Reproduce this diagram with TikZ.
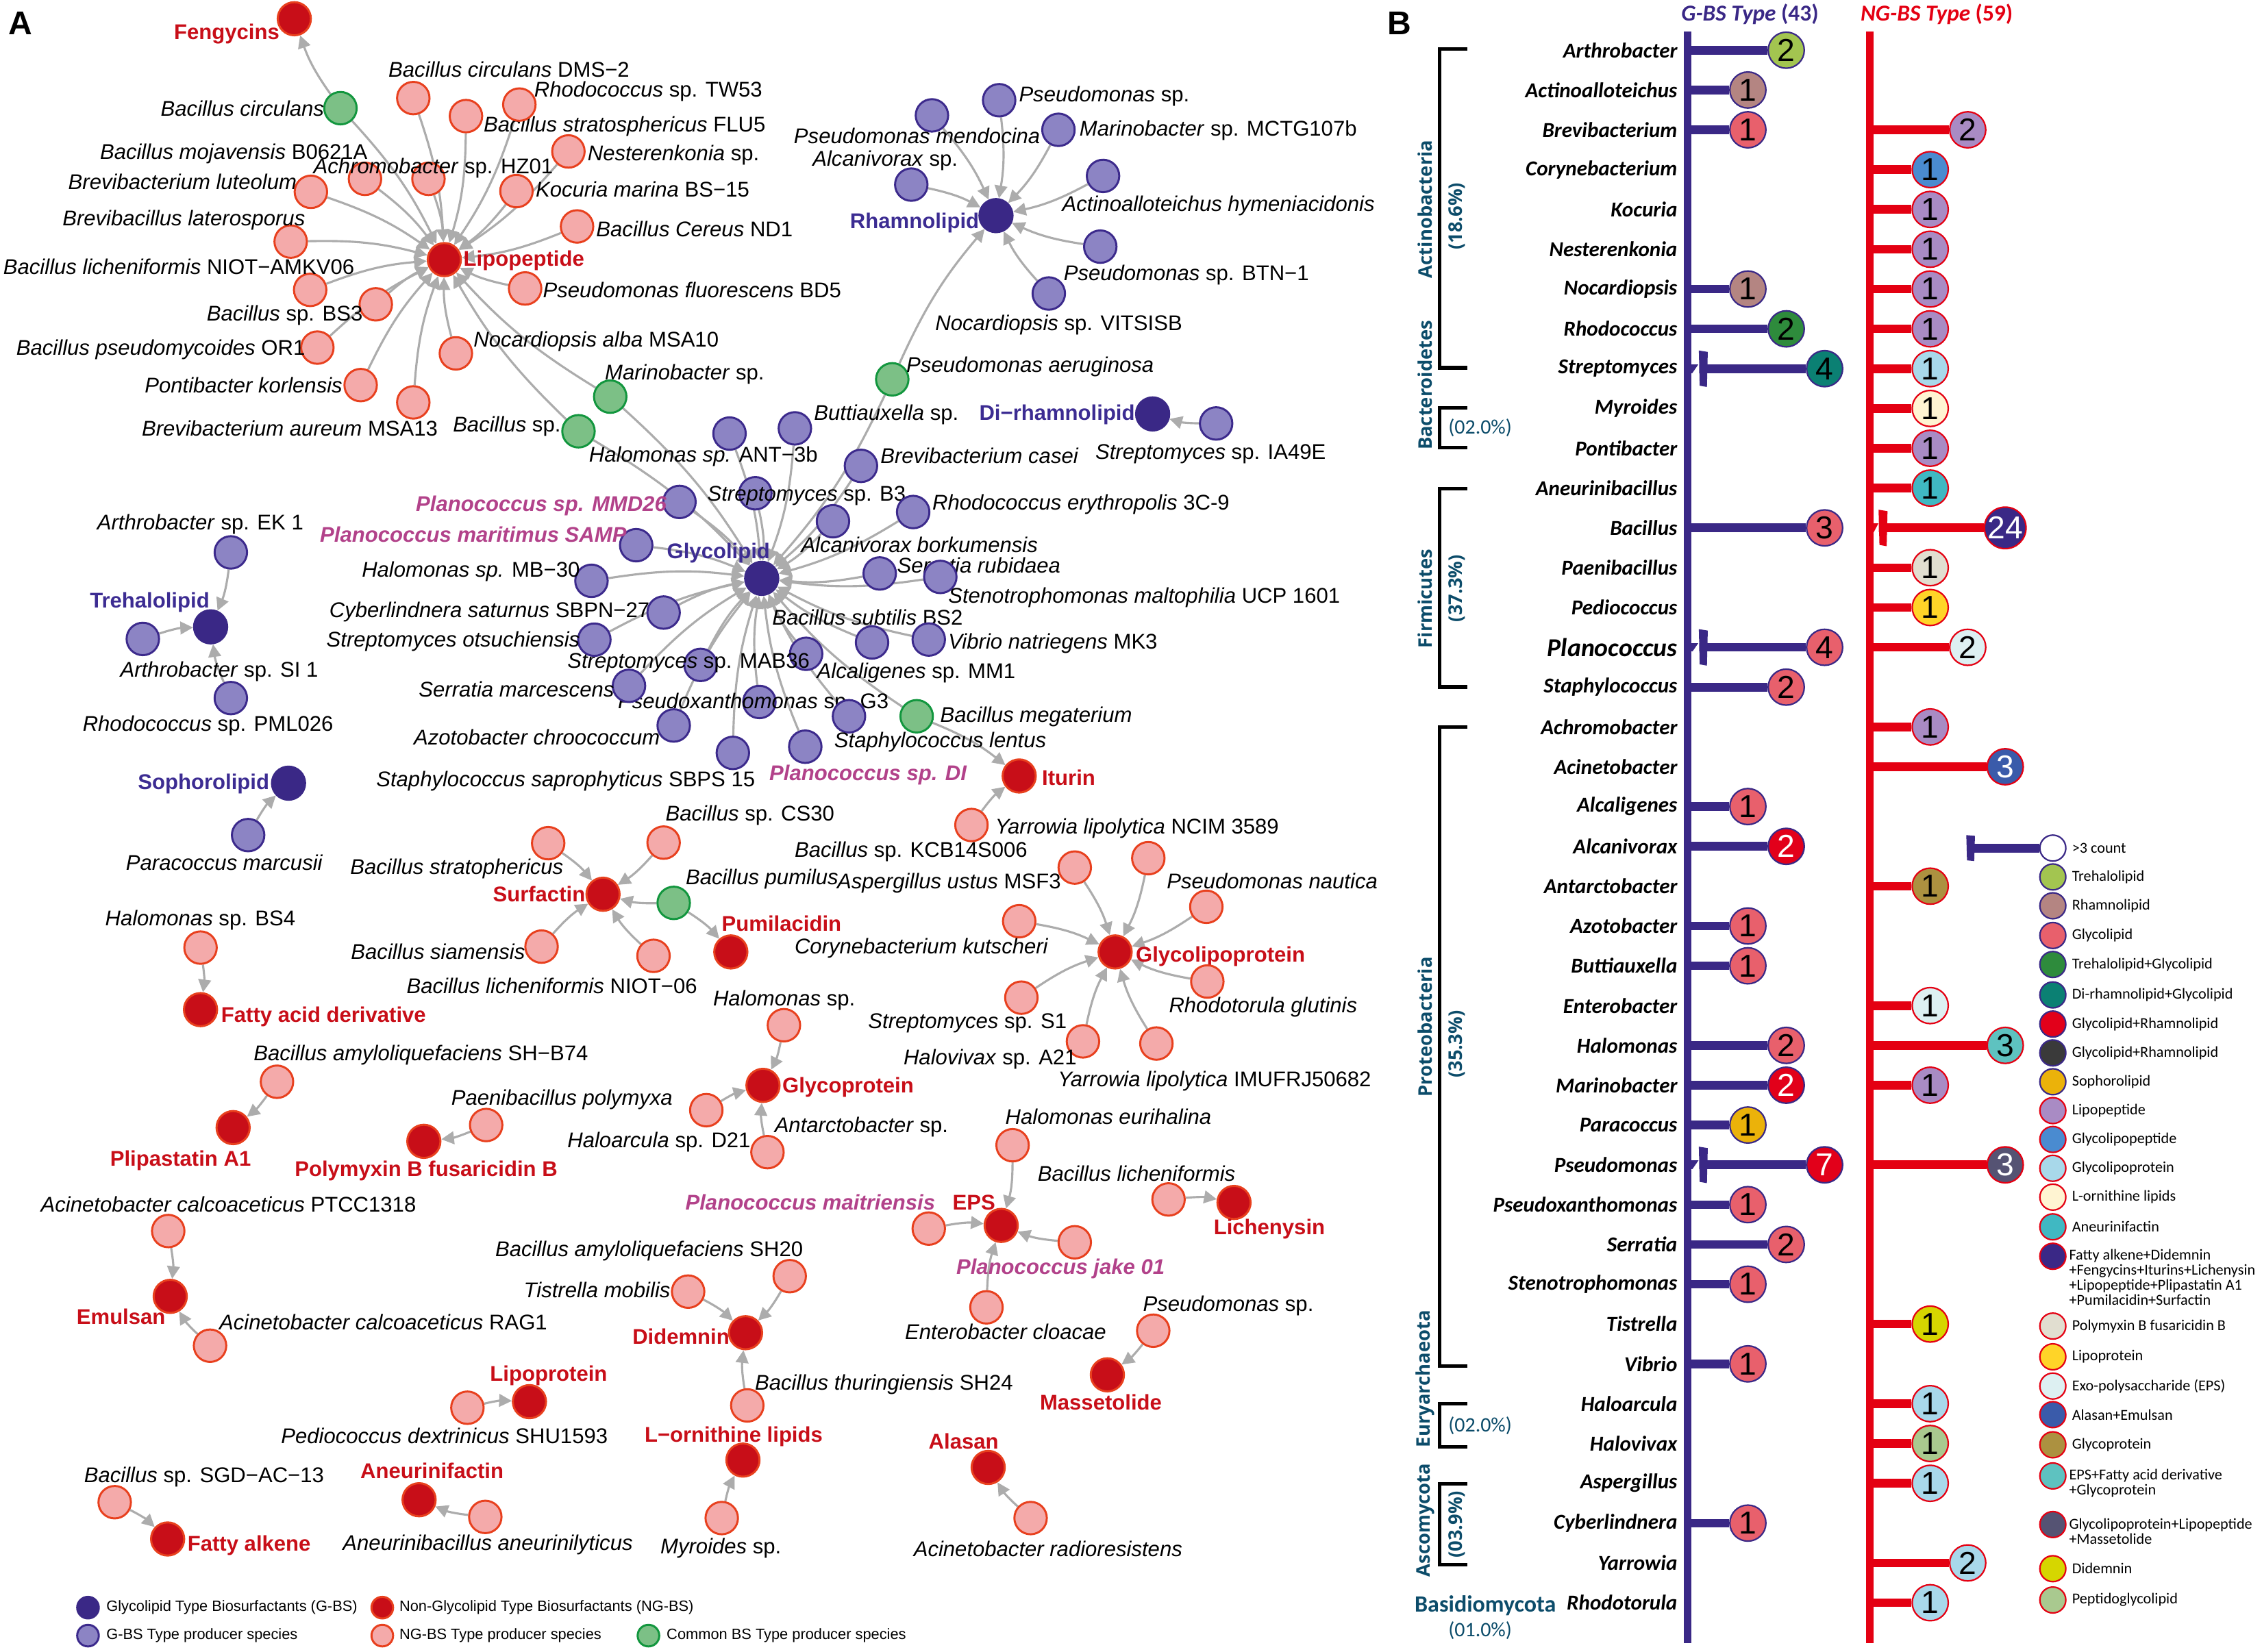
\documentclass[tikz,border=0pt]{standalone}
\usepackage{fontspec}
\setmainfont{Liberation Sans}
\newfontfamily\carlito{Carlito}
\newfontfamily\opensans{Open Sans}
\usetikzlibrary{arrows.meta,backgrounds}

\definecolor{ngfill}{RGB}{244,170,170}
\definecolor{ngline}{RGB}{232,64,30}
\definecolor{gfill}{RGB}{140,132,196}
\definecolor{gline}{RGB}{60,42,140}
\definecolor{cfill}{RGB}{124,192,134}
\definecolor{cline}{RGB}{18,150,62}
\definecolor{ghubc}{RGB}{58,40,134}
\definecolor{nhubc}{RGB}{200,14,24}
\definecolor{linkc}{RGB}{172,172,172}
\definecolor{gtxt}{RGB}{60,44,146}
\definecolor{ntxt}{RGB}{200,14,24}
\definecolor{ptxt}{RGB}{178,66,138}
\definecolor{gaxisc}{RGB}{58,40,134}
\definecolor{naxisc}{RGB}{228,0,18}
\definecolor{phylc}{RGB}{12,76,106}
% bubble colours (panel B)
\definecolor{ctreh}{RGB}{163,197,80}
\definecolor{crham}{RGB}{180,133,130}
\definecolor{cglyc}{RGB}{232,96,108}
\definecolor{ctrgl}{RGB}{46,139,60}
\definecolor{cdirg}{RGB}{11,128,115}
\definecolor{cglrh}{RGB}{226,0,26}
\definecolor{cgldk}{RGB}{58,58,58}
\definecolor{csoph}{RGB}{235,178,10}
\definecolor{clipo}{RGB}{169,139,196}
\definecolor{cglpep}{RGB}{74,139,208}
\definecolor{cglpr}{RGB}{168,216,234}
\definecolor{corn}{RGB}{255,244,210}
\definecolor{caneu}{RGB}{64,184,194}
\definecolor{cfatty}{RGB}{58,40,134}
\definecolor{cpoly}{RGB}{225,222,208}
\definecolor{clipr}{RGB}{255,212,40}
\definecolor{ceps}{RGB}{221,240,242}
\definecolor{calas}{RGB}{58,91,170}
\definecolor{cgprot}{RGB}{172,145,64}
\definecolor{cepsf}{RGB}{94,194,192}
\definecolor{cglm}{RGB}{85,83,115}
\definecolor{cdide}{RGB}{214,214,0}
\definecolor{cpepg}{RGB}{169,201,143}

\newcommand\bigplan{{\fontsize{10.2}{12}\selectfont Planococcus}}

\tikzset{
  ngp/.style={circle, draw=ngline, fill=ngfill, line width=0.8pt, minimum size=0.45cm, inner sep=0pt},
  gp/.style={circle, draw=gline, fill=gfill, line width=0.8pt, minimum size=0.45cm, inner sep=0pt},
  cp/.style={circle, draw=cline, fill=cfill, line width=0.8pt, minimum size=0.45cm, inner sep=0pt},
  gh/.style={circle, draw=ghubc, fill=ghubc, line width=0.8pt, minimum size=0.46cm, inner sep=0pt},
  nh/.style={circle, draw=ngline, fill=nhubc, line width=0.8pt, minimum size=0.46cm, inner sep=0pt},
  link/.style={draw=linkc, line width=0.85pt, -{Triangle[length=5pt,width=5pt]}, bend left=8},
  lab/.style={font=\fontsize{8.4}{10}\selectfont, inner sep=0pt, text height=6.5pt, text depth=1.6pt, anchor=west},
  glab/.style={lab, font=\fontsize{8.4}{10}\selectfont\bfseries, text=gtxt},
  nlab/.style={lab, font=\fontsize{8.4}{10}\selectfont\bfseries, text=ntxt},
  plab/.style={lab, font=\fontsize{8.4}{10}\selectfont\bfseries\itshape, text=ptxt},
  panel/.style={font=\fontsize{13}{13}\selectfont\bfseries, inner sep=0pt},
  keyA/.style={font=\fontsize{5.9}{7}\selectfont, inner sep=0pt, anchor=west},
  gaxis/.style={draw=gaxisc, line width=3pt},
  naxis/.style={draw=naxisc, line width=3pt},
  gstem/.style={draw=gaxisc, line width=3.4pt},
  nstem/.style={draw=naxisc, line width=3.4pt},
  gbub/.style={circle, draw=gaxisc, line width=0.6pt, minimum size=0.5cm, inner sep=0pt, font=\fontsize{12.5}{12.5}\selectfont},
  nbub/.style={circle, draw=naxisc, line width=0.6pt, minimum size=0.5cm, inner sep=0pt, font=\fontsize{12.5}{12.5}\selectfont},
  genus/.style={font=\carlito\fontsize{8.4}{10}\selectfont\bfseries\itshape, anchor=east, inner sep=0pt},
  ttl/.style={font=\carlito\fontsize{9}{10}\selectfont\bfseries, inner sep=0pt},
  brk/.style={draw=black, line width=1.4pt},
  phyl/.style={font=\opensans\fontsize{7.4}{9}\selectfont\bfseries, text=phylc, inner sep=0pt},
  pct/.style={font=\carlito\fontsize{8.1}{9}\selectfont, text=phylc, inner sep=0pt},
  legc/.style={circle, minimum size=0.36cm, inner sep=0pt, line width=0.6pt},
  legt/.style={font=\carlito\fontsize{6}{5.9}\selectfont, anchor=west, inner sep=0pt, align=left},
}

\begin{document}
\begin{tikzpicture}[x=0.02cm, y=-0.02cm]
\useasboundingbox (0,0) rectangle (1568,1145);

% ================= panel A =================
\node[panel] (pA) at (14,16) {A};

% Lipopeptide and Fengycins
\node[nh] (lipo) at (308,180) {};
\node[nlab] (lipoL) at (321,180) {Lipopeptide};
\node[nh] (feng) at (204,13) {};
\node[nlab, anchor=east] (fengL) at (194,23) {Fengycins};

\node[cp] (bcirc) at (236,75) {};
\node[lab, anchor=east] (bcircL) at (225,76) {\textit{Bacillus circulans}};
\node[ngp] (dms) at (286.5,68) {};
\node[lab] (dmsL) at (269,49) {\textit{Bacillus circulans} DMS−2};
\node[ngp] (flu) at (323,80.5) {};
\node[lab] (fluL) at (335,87) {\textit{Bacillus stratosphericus} FLU5};
\node[ngp] (tw) at (360,72.5) {};
\node[lab] (twL) at (370,63) {\textit{Rhodococcus} sp. TW53};
\node[ngp] (nest) at (394,105) {};
\node[lab] (nestL) at (407,107) {\textit{Nesterenkonia} sp.};
\node[ngp] (moja) at (253,124) {};
\node[lab] (mojaL) at (69,106) {\textit{Bacillus mojavensis} B0621A};
\node[ngp] (hz) at (297,124) {};
\node[lab] (hzL) at (217,116) {\textit{Achromobacter} sp. HZ01};
\node[ngp] (koc) at (358,132.5) {};
\node[lab] (kocL) at (371,132) {\textit{Kocuria marina} BS−15};
\node[ngp] (bleut) at (215.5,133) {};
\node[lab] (bleutL) at (47,127) {\textit{Brevibacterium luteolum}};
\node[ngp] (cer) at (400,157) {};
\node[lab] (cerL) at (413,160) {\textit{Bacillus Cereus} ND1};
\node[ngp] (blat) at (201.5,167.5) {};
\node[lab] (blatL) at (43,152) {\textit{Brevibacillus laterosporus}};
\node[ngp] (amkv) at (215,201) {};
\node[lab] (amkvL) at (2,186) {\textit{Bacillus licheniformis} NIOT−AMKV06};
\node[ngp] (fluo) at (364,200) {};
\node[lab] (fluoL) at (376,202) {\textit{Pseudomonas fluorescens} BD5};
\node[ngp] (bs3) at (260.5,211) {};
\node[lab] (bs3L) at (143,218) {\textit{Bacillus} sp. BS3};
\node[ngp] (or1) at (220,241) {};
\node[lab] (or1L) at (11,242) {\textit{Bacillus pseudomycoides} OR1};
\node[ngp] (msa10) at (316,245) {};
\node[lab] (msa10L) at (328,236) {\textit{Nocardiopsis alba} MSA10};
\node[ngp] (pont) at (250,267) {};
\node[lab] (pontL) at (100,268) {\textit{Pontibacter korlensis}};
\node[ngp] (msa13) at (286.5,279) {};
\node[lab] (msa13L) at (98,298) {\textit{Brevibacterium aureum} MSA13};
\node[cp] (marc) at (423,275) {};
\node[lab] (marcL) at (419,259) {\textit{Marinobacter} sp.};
\node[cp] (bsp) at (401,299) {};
\node[lab, anchor=east] (bspL) at (389,295) {\textit{Bacillus} sp.};

% Rhamnolipid
\node[gh] (rham) at (690.4,149.5) {};
\node[glab, anchor=east] (rhamL) at (679,154) {Rhamnolipid};
\node[gp] (psp) at (692.6,69.5) {};
\node[lab] (pspL) at (706,66) {\textit{Pseudomonas} sp.};
\node[gp] (pmen) at (646,80) {};
\node[lab] (pmenL) at (550,95) {\textit{Pseudomonas mendocina}};
\node[gp] (mctg) at (733.7,90) {};
\node[lab] (mctgL) at (748,90) {\textit{Marinobacter} sp. MCTG107b};
\node[gp] (alcsp) at (631.7,128) {};
\node[lab] (alcspL) at (563,111) {\textit{Alcanivorax} sp.};
\node[gp] (acti) at (764.6,122) {};
\node[lab] (actiL) at (736,142) {\textit{Actinoalloteichus hymeniacidonis}};
\node[gp] (btn) at (762.7,171) {};
\node[lab] (btnL) at (737,190) {\textit{Pseudomonas} sp. BTN−1};
\node[gp] (vit) at (727,203.5) {};
\node[lab] (vitL) at (648,225) {\textit{Nocardiopsis} sp. VITSISB};
\node[cp] (paer) at (618.5,263) {};
\node[lab] (paerL) at (628,254) {\textit{Pseudomonas aeruginosa}};

% Di-rhamnolipid
\node[gh] (dirham) at (799,287) {};
\node[glab, anchor=east] (dirhamL) at (787,287) {Di−rhamnolipid};
\node[gp] (ia49) at (843,293.6) {};
\node[lab] (ia49L) at (759,314) {\textit{Streptomyces} sp. IA49E};

% Glycolipid
\node[gh] (glyco) at (528,401) {};
\node[glab] (glycoL) at (462,383) {Glycolipid};
\node[gp] (ant) at (505.7,300.6) {};
\node[lab] (antL) at (408,316) {\textit{Halomonas sp.} ANT−3b};
\node[gp] (butt) at (551,297) {};
\node[lab] (buttL) at (564,287) {\textit{Buttiauxella} sp.};
\node[gp] (bcas) at (596.8,323) {};
\node[lab] (bcasL) at (610,317) {\textit{Brevibacterium casei}};
\node[gp] (b3) at (523.6,342) {};
\node[lab] (b3L) at (490,343) {\textit{Streptomyces} sp. B3};
\node[gp] (rery) at (633,355) {};
\node[lab] (reryL) at (646,349) {\textit{Rhodococcus erythropolis} 3C-9};
\node[gp] (abork) at (577.4,361.4) {};
\node[lab] (aborkL) at (555,378.5) {\textit{Alcanivorax borkumensis}};
\node[gp] (srub) at (609.8,397.6) {};
\node[lab] (srubL) at (621.5,393) {\textit{Serratia rubidaea}};
\node[gp] (steno) at (651.8,400) {};
\node[lab] (stenoL) at (657,414) {\textit{Stenotrophomonas maltophilia} UCP 1601};
\node[gp] (bsub) at (604.5,445.4) {};
\node[lab] (bsubL) at (535,429) {\textit{Bacillus subtilis} BS2};
\node[gp] (vib) at (643.8,443.4) {};
\node[lab] (vibL) at (657,445.4) {\textit{Vibrio natriegens} MK3};
\node[gp] (alcal) at (558.8,453.3) {};
\node[lab] (alcalL) at (566,466) {\textit{Alcaligenes} sp. MM1};
\node[gp] (mab) at (485.6,461) {};
\node[lab] (mabL) at (393,459) {\textit{Streptomyces} sp. MAB36};
\node[gp] (g3) at (526.4,486.7) {};
\node[lab] (g3L) at (428,487) {\textit{Pseudoxanthomonas} sp. G3};
\node[gp] (slen) at (588.5,496.6) {};
\node[lab] (slenL) at (578,514) {\textit{Staphylococcus lentus}};
\node[gp] (pdi) at (558.2,517.7) {};
\node[plab] (pdiL) at (533,537) {Planococcus sp. DI};
\node[gp] (ssap) at (508,522) {};
\node[lab] (ssapL) at (260.5,541) {\textit{Staphylococcus saprophyticus} SBPS 15};
\node[gp] (azo) at (467,503) {};
\node[lab] (azoL) at (286.5,512) {\textit{Azotobacter chroococcum}};
\node[gp] (smar) at (436,475.5) {};
\node[lab] (smarL) at (290,479) {\textit{Serratia marcescens}};
\node[gp] (otsu) at (412,443.5) {};
\node[lab] (otsuL) at (226,444.4) {\textit{Streptomyces otsuchiensis}};
\node[gp] (cyb) at (460,424.7) {};
\node[lab] (cybL) at (228,424) {\textit{Cyberlindnera saturnus} SBPN−27};
\node[gp] (mb30) at (410,402.7) {};
\node[lab] (mb30L) at (250.5,396) {\textit{Halomonas sp.} MB−30};
\node[gp] (samp) at (441,378) {};
\node[plab] (sampL) at (221.5,371.6) {Planococcus maritimus SAMP};
\node[gp] (mmd) at (471,348) {};
\node[plab] (mmdL) at (288,350) {Planococcus sp. MMD26};
\node[cp] (bmeg) at (635.4,496.6) {};
\node[lab] (bmegL) at (651.5,496.6) {\textit{Bacillus megaterium}};

% Trehalolipid
\node[gh] (treh) at (146,434.6) {};
\node[glab] (trehL) at (62,417) {Trehalolipid};
\node[gp] (ek1) at (160,383) {};
\node[lab] (ek1L) at (67,363) {\textit{Arthrobacter} sp. EK 1};
\node[gp] (si1) at (99,443) {};
\node[lab] (si1L) at (83,465) {\textit{Arthrobacter} sp. SI 1};
\node[gp] (pml) at (160,484) {};
\node[lab] (pmlL) at (57,502.5) {\textit{Rhodococcus} sp. PML026};

% Sophorolipid
\node[gh] (soph) at (200,543) {};
\node[glab, anchor=east] (sophL) at (187,543) {Sophorolipid};
\node[gp] (para) at (172,579) {};
\node[lab] (paraL) at (87,599) {\textit{Paracoccus marcusii}};

% Surfactin and Pumilacidin
\node[nh] (surf) at (418,620) {};
\node[nlab, anchor=east] (surfL) at (406,621) {Surfactin};
\node[ngp] (bstrat) at (380,584.6) {};
\node[lab] (bstratL) at (242.5,602) {\textit{Bacillus stratophericus}};
\node[ngp] (cs30) at (460,584.2) {};
\node[lab] (cs30L) at (461,565) {\textit{Bacillus} sp. CS30};
\node[cp] (bpum) at (467,626) {};
\node[lab] (bpumL) at (475,609) {\textit{Bacillus pumilus}};
\node[ngp] (bsiam) at (375.4,656.3) {};
\node[lab] (bsiamL) at (243,660.5) {\textit{Bacillus siamensis}};
\node[ngp] (niot6) at (453,662.7) {};
\node[lab] (niot6L) at (281.5,684.3) {\textit{Bacillus licheniformis} NIOT−06};
\node[nh] (pumi) at (506.6,660) {};
\node[nlab] (pumiL) at (500,641.5) {Pumilacidin};

% Iturin
\node[nh] (itur) at (706.5,538) {};
\node[nlab] (iturL) at (722,540) {Iturin};
\node[ngp] (yncim) at (673.4,572) {};
\node[lab] (yncimL) at (689.5,574) {\textit{Yarrowia lipolytica} NCIM 3589};

% Glycolipoprotein
\node[nh] (glpr) at (773,660) {};
\node[nlab] (glprL) at (787,662.5) {Glycolipoprotein};
\node[ngp] (kcb) at (796,595) {};
\node[lab] (kcbL) at (550.5,590) {\textit{Bacillus} sp. KCB14S006};
\node[ngp] (msf3) at (745,601.5) {};
\node[lab] (msf3L) at (580,611.8) {\textit{Aspergillus ustus} MSF3};
\node[ngp] (naut) at (836.2,628.7) {};
\node[lab] (nautL) at (808.5,611.8) {\textit{Pseudomonas nautica}};
\node[ngp] (kuts) at (706.5,638.7) {};
\node[lab] (kutsL) at (550.5,657) {\textit{Corynebacterium kutscheri}};
\node[ngp] (rglu) at (836.9,680.5) {};
\node[lab] (rgluL) at (810,698) {\textit{Rhodotorula glutinis}};
\node[ngp] (s1) at (708,691.7) {};
\node[lab] (s1L) at (601.5,708.7) {\textit{Streptomyces} sp. S1};
\node[ngp] (a21) at (750.7,722) {};
\node[lab] (a21L) at (626,734) {\textit{Halovivax} sp. A21};
\node[ngp] (imu) at (801.6,723.5) {};
\node[lab] (imuL) at (733,749) {\textit{Yarrowia lipolytica} IMUFRJ50682};

% single-source biosurfactants
\node[nh] (fad) at (139,700) {};
\node[nlab] (fadL) at (153,704.4) {Fatty acid derivative};
\node[ngp] (bs4) at (139,657) {};
\node[lab] (bs4L) at (72.6,637.6) {\textit{Halomonas} sp. BS4};

\node[nh] (plip) at (161.6,781.8) {};
\node[nlab] (plipL) at (76,804) {Plipastatin A1};
\node[ngp] (shb74) at (192,750) {};
\node[lab] (shb74L) at (175.5,731) {\textit{Bacillus amyloliquefaciens} SH−B74};

\node[nh] (poly) at (293.8,791.3) {};
\node[nlab] (polyL) at (204,811.5) {Polymyxin B fusaricidin B};
\node[ngp] (paeni) at (337,780) {};
\node[lab] (paeniL) at (312.5,761.7) {\textit{Paenibacillus polymyxa}};

\node[nh] (gprot) at (528.9,752.5) {};
\node[nlab] (gprotL) at (542,753.2) {Glycoprotein};
\node[ngp] (halsp) at (543.4,710.8) {};
\node[lab] (halspL) at (494,692.8) {\textit{Halomonas} sp.};
\node[ngp] (d21) at (489.6,769.7) {};
\node[lab] (d21L) at (393,791.3) {\textit{Haloarcula} sp. D21};
\node[ngp] (antar) at (532,798.8) {};
\node[lab] (antarL) at (536.6,780.7) {\textit{Antarctobacter} sp.};

\node[nh] (eps) at (694,849.6) {};
\node[nlab] (epsL) at (660,834.4) {EPS};
\node[ngp] (heur) at (701.9,794) {};
\node[lab] (heurL) at (696.6,775.4) {\textit{Halomonas eurihalina}};
\node[ngp] (pmait) at (643.8,851.8) {};
\node[plab] (pmaitL) at (474.8,834.4) {Planococcus maitriensis};
\node[ngp] (pjake) at (745,861.3) {};
\node[plab] (pjakeL) at (662.6,879.3) {Planococcus jake 01};
\node[ngp] (entc) at (683.8,906.4) {};
\node[lab] (entcL) at (627,924.3) {\textit{Enterobacter cloacae}};

\node[nh] (lich) at (855.4,833.7) {};
\node[nlab] (lichL) at (841,851.8) {Lichenysin};
\node[ngp] (blich) at (810,831.6) {};
\node[lab] (blichL) at (719,814.7) {\textit{Bacillus licheniformis}};

\node[nh] (emul) at (118,898.8) {};
\node[nlab, anchor=east] (emulL) at (115,914) {Emulsan};
\node[ngp] (ptcc) at (116.6,853.5) {};
\node[lab] (ptccL) at (28,835.9) {\textit{Acinetobacter calcoaceticus} PTCC1318};
\node[ngp] (rag1) at (145.6,933) {};
\node[lab] (rag1L) at (151.7,917.5) {\textit{Acinetobacter calcoaceticus} RAG1};

\node[nh] (didem) at (516.8,924) {};
\node[nlab, anchor=east] (didemL) at (506,927.7) {Didemnin};
\node[ngp] (tist) at (477,895.5) {};
\node[lab, anchor=east] (tistL) at (465,895.2) {\textit{Tistrella mobilis}};
\node[ngp] (sh20) at (547.4,884.8) {};
\node[lab] (sh20L) at (343,866.6) {\textit{Bacillus amyloliquefaciens} SH20};
\node[ngp] (sh24) at (518,974.4) {};
\node[lab] (sh24L) at (523,959.6) {\textit{Bacillus thuringiensis} SH24};

\node[nh] (mass) at (767.6,953.2) {};
\node[nlab] (massL) at (720.5,973.2) {Massetolide};
\node[ngp] (psp2) at (799.4,922.6) {};
\node[lab] (psp2L) at (792,904.7) {\textit{Pseudomonas} sp.};

\node[nh] (lipr) at (367,971.8) {};
\node[nlab] (liprL) at (339.4,953.2) {Lipoprotein};
\node[ngp] (pedio) at (324,976) {};
\node[lab] (pedioL) at (194.5,996.5) {\textit{Pediococcus dextrinicus} SHU1593};

\node[nh] (lorn) at (515,1012.3) {};
\node[nlab] (lornL) at (446.5,995.6) {L−ornithine lipids};
\node[ngp] (myro) at (500.3,1052.5) {};
\node[lab] (myroL) at (457.5,1073) {\textit{Myroides} sp.};

\node[nh] (alas) at (685,1017.4) {};
\node[nlab] (alasL) at (643.4,1000.4) {Alasan};
\node[ngp] (arad) at (714.4,1052.5) {};
\node[lab] (aradL) at (633,1074.6) {\textit{Acinetobacter radioresistens}};

\node[nh] (falk) at (116.2,1067) {};
\node[nlab] (falkL) at (129.7,1071.2) {Fatty alkene};
\node[ngp] (sgd) at (79.5,1041.5) {};
\node[lab] (sgdL) at (58,1023.7) {\textit{Bacillus} sp. SGD−AC−13};

\node[nh] (aneu) at (290.5,1039.8) {};
\node[nlab] (aneuL) at (249.5,1020.8) {Aneurinifactin};
\node[ngp] (anba) at (336.4,1051.7) {};
\node[lab] (anbaL) at (237.3,1070.4) {\textit{Aneurinibacillus aneurinilyticus}};

% connectors, behind the circles
\begin{scope}[on background layer]
\foreach \s in {bcirc,dms,flu,tw,nest,moja,hz,koc,bleut,cer,blat,amkv,fluo,bs3,or1,msa10,pont,msa13,marc,bsp}
  \draw[link] (\s) to (lipo);
\draw[link] (bcirc) to (feng);
\foreach \s in {psp,pmen,mctg,alcsp,acti,btn,vit,paer}
  \draw[link] (\s) to (rham);
\draw[link] (ia49) to (dirham);
\foreach \s in {ant,butt,bcas,b3,rery,abork,srub,steno,bsub,vib,alcal,mab,g3,slen,pdi,ssap,azo,smar,otsu,cyb,mb30,samp,mmd,marc,bsp,paer,bmeg}
  \draw[link] (\s) to (glyco);
\foreach \s in {ek1,si1,pml}
  \draw[link] (\s) to (treh);
\draw[link] (para) to (soph);
\foreach \s in {bstrat,cs30,bpum,bsiam,niot6}
  \draw[link] (\s) to (surf);
\draw[link] (bpum) to (pumi);
\draw[link] (bmeg) to (itur);
\draw[link] (yncim) to (itur);
\foreach \s in {kcb,msf3,naut,kuts,rglu,s1,a21,imu}
  \draw[link] (\s) to (glpr);
\draw[link] (bs4) to (fad);
\draw[link] (shb74) to (plip);
\draw[link] (paeni) to (poly);
\foreach \s in {halsp,d21,antar}
  \draw[link] (\s) to (gprot);
\foreach \s in {heur,pmait,pjake,entc}
  \draw[link] (\s) to (eps);
\draw[link] (blich) to (lich);
\draw[link] (ptcc) to (emul);
\draw[link] (rag1) to (emul);
\foreach \s in {tist,sh20,sh24}
  \draw[link] (\s) to (didem);
\draw[link] (psp2) to (mass);
\draw[link] (pedio) to (lipr);
\draw[link] (myro) to (lorn);
\draw[link] (arad) to (alas);
\draw[link] (sgd) to (falk);
\draw[link] (anba) to (aneu);
\end{scope}

% key of panel A
\node[gh, minimum size=0.3cm] (kA1) at (61,1114.6) {};
\node[keyA] (kA1t) at (73.4,1114.6) {Glycolipid Type Biosurfactants (G-BS)};
\node[nh, minimum size=0.3cm] (kA2) at (265,1114.6) {};
\node[keyA] (kA2t) at (276.5,1114.6) {Non-Glycolipid Type Biosurfactants (NG-BS)};
\node[gp, minimum size=0.3cm] (kA3) at (61,1134) {};
\node[keyA] (kA3t) at (73.4,1134) {G-BS Type producer species};
\node[ngp, minimum size=0.3cm] (kA4) at (265,1134) {};
\node[keyA] (kA4t) at (276.5,1134) {NG-BS Type producer species};
\node[cp, minimum size=0.3cm] (kA5) at (449.5,1134) {};
\node[keyA] (kA5t) at (461.8,1134) {Common BS Type producer species};

% ================= panel B =================
\node[panel] (pB) at (970,16) {B};
\node[ttl, text=gaxisc] (gttl) at (1213,10) {\textit{G-BS Type} (43)};
\node[ttl, text=naxisc] (nttl) at (1342.5,10) {\textit{NG-BS Type} (59)};

\coordinate (gtop) at (1169.6,22);
\coordinate (gbot) at (1169.6,1139);
\coordinate (ntop) at (1296.2,22);
\coordinate (nbot) at (1296.2,1139);
\draw[gaxis] (gtop) -- (gbot);
\draw[naxis] (ntop) -- (nbot);

% genus names
\foreach \g [count=\i] in {Arthrobacter,Actinoalloteichus,Brevibacterium,Corynebacterium,Kocuria,Nesterenkonia,Nocardiopsis,Rhodococcus,Streptomyces,Myroides,Pontibacter,Aneurinibacillus,Bacillus,Paenibacillus,Pediococcus,\bigplan,Staphylococcus,Achromobacter,Acinetobacter,Alcaligenes,Alcanivorax,Antarctobacter,Azotobacter,Buttiauxella,Enterobacter,Halomonas,Marinobacter,Paracoccus,Pseudomonas,Pseudoxanthomonas,Serratia,Stenotrophomonas,Tistrella,Vibrio,Haloarcula,Halovivax,Aspergillus,Cyberlindnera,Yarrowia,Rhodotorula}
  \node[genus] (gen\i) at (1163,{34.8+(\i-1)*27.6}) {\g};

% G-BS counts
\foreach \i/\n/\c/\t in {1/2/ctreh/black,2/1/crham/black,3/1/cglyc/black,7/1/crham/black,8/2/ctrgl/black,9/4/cdirg/black,13/3/cglyc/black,16/4/cglyc/black,17/2/cglyc/black,20/1/cglyc/black,21/2/cglrh/white,23/1/cglyc/black,24/1/cglyc/black,26/2/cglyc/black,27/2/cglrh/white,28/1/csoph/black,29/7/cglrh/white,30/1/cglyc/black,31/2/cglyc/black,32/1/cglyc/black,34/1/cglyc/black,38/1/cglyc/black} {
  \pgfmathsetmacro\ry{34.8+(\i-1)*27.6}
  \pgfmathsetmacro\bx{1185+26.6*min(\n,3)}
  \coordinate (ga\i) at (1169.6,\ry);
  \node[gbub, fill=\c, text=\t] (gb\i) at (\bx,\ry) {\n};
  \draw[gstem] (ga\i) -- (gb\i);
}

% NG-BS counts
\foreach \i/\n/\c/\t in {3/2/clipo/black,4/1/cglpep/black,5/1/clipo/black,6/1/clipo/black,7/1/clipo/black,8/1/clipo/black,9/1/cglpr/black,10/1/corn/black,11/1/clipo/black,12/1/caneu/black,13/24/cfatty/white,14/1/cpoly/black,15/1/clipr/black,16/2/ceps/black,18/1/clipo/black,19/3/calas/white,22/1/cgprot/black,25/1/ceps/black,26/3/cepsf/black,27/1/clipo/black,29/3/cglm/white,33/1/cdide/black,35/1/cglpr/black,36/1/cpepg/black,37/1/cglpr/black,39/2/cglpr/black,40/1/cglpr/black} {
  \pgfmathsetmacro\ry{34.8+(\i-1)*27.6}
  \pgfmathsetmacro\bx{1312+26*min(\n,3)}
  \coordinate (na\i) at (1296.2,\ry);
  \node[nbub, fill=\c, text=\t] (nb\i) at (\bx,\ry) {\n};
  \draw[nstem] (na\i) -- (nb\i);
}

% breaks for counts above 3
\foreach \i in {9,16,29} {
  \fill[gaxisc, shift={(1169.6,{34.8+(\i-1)*27.6})}] (8,-12.6) -- (14.2,-11.6) -- (13.6,12.7) -- (8.6,11.8) -- cycle;
  \fill[white, shift={(1169.6,{34.8+(\i-1)*27.6})}] (3.2,3.6) -- (8.2,-3.6) -- (8.2,3.6) -- cycle;
}
\fill[naxisc, shift={(1296.2,366)}] (6,-12.6) -- (12.2,-11.6) -- (11.6,12.7) -- (6.6,11.8) -- cycle;
\fill[white, shift={(1296.2,366)}] (2.4,3.6) -- (6.2,-3.6) -- (6.2,3.6) -- cycle;

% phylum brackets
\draw[brk] (1017,34) -- (998,34) -- (998,255) -- (1017,255);
\draw[brk] (1017,282.6) -- (998,282.6) -- (998,310.4) -- (1017,310.4);
\draw[brk] (1017,339) -- (998,339) -- (998,476.3) -- (1017,476.3);
\draw[brk] (1017,504) -- (998,504) -- (998,947) -- (1017,947);
\draw[brk] (1017,973.4) -- (998,973.4) -- (998,1003) -- (1017,1003);
\draw[brk] (1017,1028.7) -- (998,1028.7) -- (998,1085) -- (1017,1085);

\node[phyl, rotate=90] (ph1) at (988,145) {Actinobacteria};
\node[phyl, rotate=90] (ph1p) at (1009.7,150) {(18.6\%)};
\node[phyl, rotate=90] (ph2) at (988,267) {Bacteroidetes};
\node[pct] (ph2p) at (1026,296.7) {(02.0\%)};
\node[phyl, rotate=90] (ph3) at (988,415) {Firmicutes};
\node[phyl, rotate=90] (ph3p) at (1009.7,408) {(37.3\%)};
\node[phyl, rotate=90] (ph4) at (988,712) {Proteobacteria};
\node[phyl, rotate=90] (ph4p) at (1009.7,724) {(35.3\%)};
\node[phyl, rotate=90] (ph5) at (988,956) {Euryarchaeota};
\node[pct] (ph5p) at (1026,988.6) {(02.0\%)};
\node[phyl, rotate=90] (ph6) at (988,1054) {Ascomycota};
\node[phyl, rotate=90] (ph6p) at (1009.7,1057) {(03.9\%)};
\node[pct, font=\carlito\fontsize{9.2}{10}\selectfont\bfseries] (ph7) at (1029.6,1113.4) {Basidiomycota};
\node[pct] (ph7p) at (1026,1130.6) {(01.0\%)};

% key of panel B
\coordinate (lg0s) at (1366,588);
\node[legc, fill=white, draw=gaxisc] (lg0) at (1423,588) {};
\draw[gstem] (lg0s) -- (lg0);
\fill[gaxisc, shift={(1363,588)}] (0,-9) -- (6,-8.5) -- (5.5,9) -- (0.5,8.5) -- cycle;
\node[legt] (lt0) at (1436,588) {>3 count};
\foreach \y/\c/\d/\t [count=\k] in {608/ctreh/gaxisc/Trehalolipid,628/crham/gaxisc/Rhamnolipid,648.6/cglyc/gaxisc/Glycolipid,668.7/ctrgl/gaxisc/Trehalolipid+Glycolipid,689.8/cdirg/gaxisc/Di-rhamnolipid+Glycolipid,710/cglrh/gaxisc/Glycolipid+Rhamnolipid,730/cgldk/gaxisc/Glycolipid+Rhamnolipid,750/csoph/gaxisc/Sophorolipid,770/clipo/naxisc/Lipopeptide,790/cglpep/naxisc/Glycolipopeptide,810/cglpr/naxisc/Glycolipoprotein,830/corn/naxisc/L-ornithine lipids,850.6/caneu/naxisc/Aneurinifactin,919.4/cpoly/naxisc/Polymyxin B fusaricidin B,940.7/clipr/naxisc/Lipoprotein,961/ceps/naxisc/Exo-polysaccharide (EPS),980.8/calas/naxisc/Alasan+Emulsan,1001.7/cgprot/naxisc/Glycoprotein,1087.6/cdide/naxisc/Didemnin,1109.3/cpepg/naxisc/Peptidoglycolipid} {
  \node[legc, fill=\c, draw=\d] (lg\k) at (1423,\y) {};
  \node[legt] (lt\k) at (1436,\y) {\t};
}
\node[legc, fill=cfatty, draw=naxisc] (lgf) at (1423,871) {};
\node[legt, anchor=north west] (ltf) at (1434,866) {Fatty alkene+Didemnin\\+Fengycins+Iturins+Lichenysin\\+Lipopeptide+Plipastatin A1\\+Pumilacidin+Surfactin};
\node[legc, fill=cepsf, draw=naxisc] (lge) at (1423,1023.3) {};
\node[legt, anchor=north west] (lte) at (1434,1018.5) {EPS+Fatty acid derivative\\+Glycoprotein};
\node[legc, fill=cglm, draw=naxisc] (lgm) at (1423,1057) {};
\node[legt, anchor=north west] (ltm) at (1434,1052.5) {Glycolipoprotein+Lipopeptide\\+Massetolide};
\end{tikzpicture}
\end{document}
